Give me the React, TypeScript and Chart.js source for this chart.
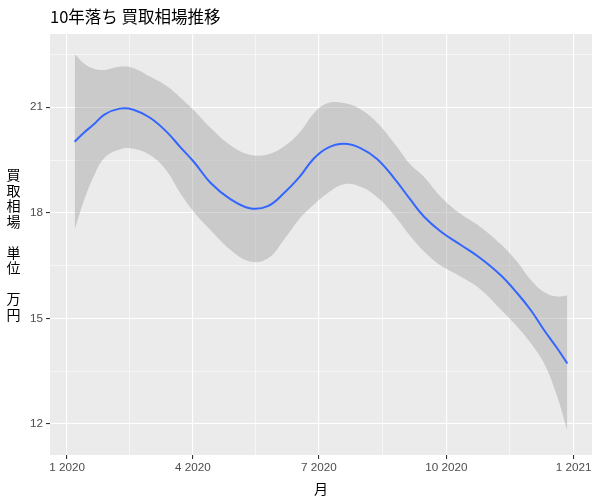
import React, { useEffect, useRef } from 'react';
import { Chart, registerables } from 'chart.js';

Chart.register(...registerables);

// Days since 2020-01-01
const days = [5.5, 12, 19, 27, 38, 48, 60, 72, 82, 92, 104, 118, 132, 145, 157, 168, 178, 188, 200, 212, 224, 236, 248, 258, 270, 284, 298, 313, 325, 335, 345, 354, 361.5];
const fitValues = [20.02, 20.27, 20.5, 20.79, 20.96, 20.93, 20.7, 20.3, 19.86, 19.43, 18.84, 18.39, 18.13, 18.19, 18.57, 19.02, 19.53, 19.84, 19.96, 19.84, 19.53, 19.0, 18.38, 17.89, 17.47, 17.1, 16.73, 16.24, 15.73, 15.24, 14.65, 14.16, 13.72];
const upperValues = [22.51, 22.25, 22.1, 22.06, 22.15, 22.11, 21.87, 21.6, 21.27, 20.9, 20.4, 19.92, 19.65, 19.66, 19.89, 20.28, 20.81, 21.11, 21.12, 20.94, 20.56, 20.0, 19.38, 19.02, 18.46, 17.98, 17.62, 17.12, 16.62, 16.1, 15.74, 15.62, 15.66];
const lowerValues = [17.51, 18.32, 19.01, 19.56, 19.8, 19.82, 19.64, 19.19, 18.55, 18.01, 17.5, 16.95, 16.62, 16.7, 17.25, 17.83, 18.22, 18.55, 18.81, 18.74, 18.45, 17.95, 17.34, 16.9, 16.5, 16.2, 15.85, 15.27, 14.78, 14.3, 13.7, 12.8, 11.8];

const xTickDays = [0, 91, 182, 274, 366];
const xTickLabels = ['1 2020', '4 2020', '7 2020', '10 2020', '1 2021'];
const xMinorDays = [45.5, 136.5, 228, 320];
const yTicks = [12, 15, 18, 21];
const yMinorTicks = [13.5, 16.5, 19.5, 22.5];

const titleText = '10年落ち 買取相場推移';
const yTitleLines = ['買', '取', '相', '場', '', '単', '位', '', '万', '円'];
const xTitleText = '月';

const CJK = '"Noto Sans CJK JP", "Noto Sans", sans-serif';
const LAT = '"Liberation Sans", Arial, sans-serif';

const decorPlugin = {
  id: 'decor',
  beforeDraw(chart: any) {
    const { ctx, chartArea: a } = chart;
    ctx.save();
    ctx.fillStyle = '#FFFFFF';
    ctx.fillRect(0, 0, chart.width, chart.height);
    ctx.fillStyle = '#EBEBEB';
    ctx.fillRect(a.left, a.top, a.right - a.left, a.bottom - a.top);
    ctx.restore();
  },
  afterDraw(chart: any) {
    const { ctx, chartArea: a } = chart;
    ctx.save();
    ctx.fillStyle = '#000000';
    ctx.font = `16.5px ${CJK}`;
    ctx.textAlign = 'left';
    ctx.textBaseline = 'middle';
    ctx.fillText(titleText, a.left, 16.5);

    ctx.font = `14px ${CJK}`;
    ctx.textAlign = 'center';
    const step = 15.5;
    const mid = (a.top + a.bottom) / 2;
    const n = yTitleLines.length;
    yTitleLines.forEach((ch, i) => {
      if (!ch) return;
      ctx.fillText(ch, 13.5, mid + (i - (n - 1) / 2) * step);
    });

    ctx.fillText(xTitleText, (a.left + a.right) / 2, 489);
    ctx.restore();
  },
};

export default function App() {
  const ref = useRef<HTMLCanvasElement>(null);

  useEffect(() => {
    if (!ref.current) return;
    const pts = (vals: number[]) => days.map((d, i) => ({ x: d, y: vals[i] }));
    const isMajorX = (v: number) => xTickDays.indexOf(v) >= 0;
    const isMajorY = (v: number) => yTicks.indexOf(v) >= 0;

    const chart = new Chart(ref.current, {
      type: 'line',
      data: {
        datasets: [
          {
            data: pts(upperValues),
            borderWidth: 0,
            pointRadius: 0,
            fill: '+1',
            backgroundColor: 'rgba(153,153,153,0.4)',
            borderColor: 'rgba(0,0,0,0)',
            tension: 0.4,
            order: 2,
          },
          {
            data: pts(lowerValues),
            borderWidth: 0,
            pointRadius: 0,
            fill: false,
            borderColor: 'rgba(0,0,0,0)',
            tension: 0.4,
            order: 3,
          },
          {
            data: pts(fitValues),
            borderWidth: 2,
            borderColor: '#3366FF',
            pointRadius: 0,
            fill: false,
            tension: 0.4,
            order: 0,
          },
        ],
      },
      options: {
        responsive: false,
        animation: false,
        devicePixelRatio: 1,
        layout: { padding: { top: 34, right: 8, left: 0, bottom: 0 } },
        plugins: {
          legend: { display: false },
          tooltip: { enabled: false },
          title: { display: false },
        },
        scales: {
          x: {
            type: 'linear',
            min: -12.3,
            max: 379.3,
            afterBuildTicks: (s: any) => {
              s.ticks = [...xTickDays, ...xMinorDays].sort((p, q) => p - q).map((v) => ({ value: v }));
            },
            afterFit: (s: any) => {
              s.height = 45;
            },
            border: { display: false },
            grid: {
              color: '#FFFFFF',
              lineWidth: (c: any) => (c.tick && isMajorX(c.tick.value) ? 1.1 : 0.55),
              tickLength: 4,
              tickColor: (c: any) => (c.tick && isMajorX(c.tick.value) ? '#333333' : 'rgba(0,0,0,0)'),
              tickWidth: 1.1,
            },
            ticks: {
              autoSkip: false,
              maxRotation: 0,
              minRotation: 0,
              padding: 2,
              color: '#4D4D4D',
              font: { family: LAT, size: 11.7 },
              callback: (v: any) => {
                const i = xTickDays.indexOf(Number(v));
                return i >= 0 ? xTickLabels[i] : '';
              },
            },
          },
          y: {
            type: 'linear',
            min: 11.12,
            max: 23.08,
            afterBuildTicks: (s: any) => {
              s.ticks = [...yTicks, ...yMinorTicks].sort((p, q) => p - q).map((v) => ({ value: v }));
            },
            afterFit: (s: any) => {
              s.width = 50;
            },
            border: { display: false },
            grid: {
              color: '#FFFFFF',
              lineWidth: (c: any) => (c.tick && isMajorY(c.tick.value) ? 1.1 : 0.55),
              tickLength: 4,
              tickColor: (c: any) => (c.tick && isMajorY(c.tick.value) ? '#333333' : 'rgba(0,0,0,0)'),
              tickWidth: 1.1,
            },
            ticks: {
              autoSkip: false,
              padding: 3,
              color: '#4D4D4D',
              font: { family: LAT, size: 11.7 },
              callback: (v: any) => (isMajorY(Number(v)) ? String(v) : ''),
            },
          },
        },
      },
      plugins: [decorPlugin],
    } as any);

    return () => chart.destroy();
  }, []);

  return (
    <div style={{ position: 'fixed', left: 0, top: 0, width: 600, height: 500 }}>
      <canvas ref={ref} width={600} height={500} style={{ display: 'block', width: 600, height: 500 }} />
    </div>
  );
}
